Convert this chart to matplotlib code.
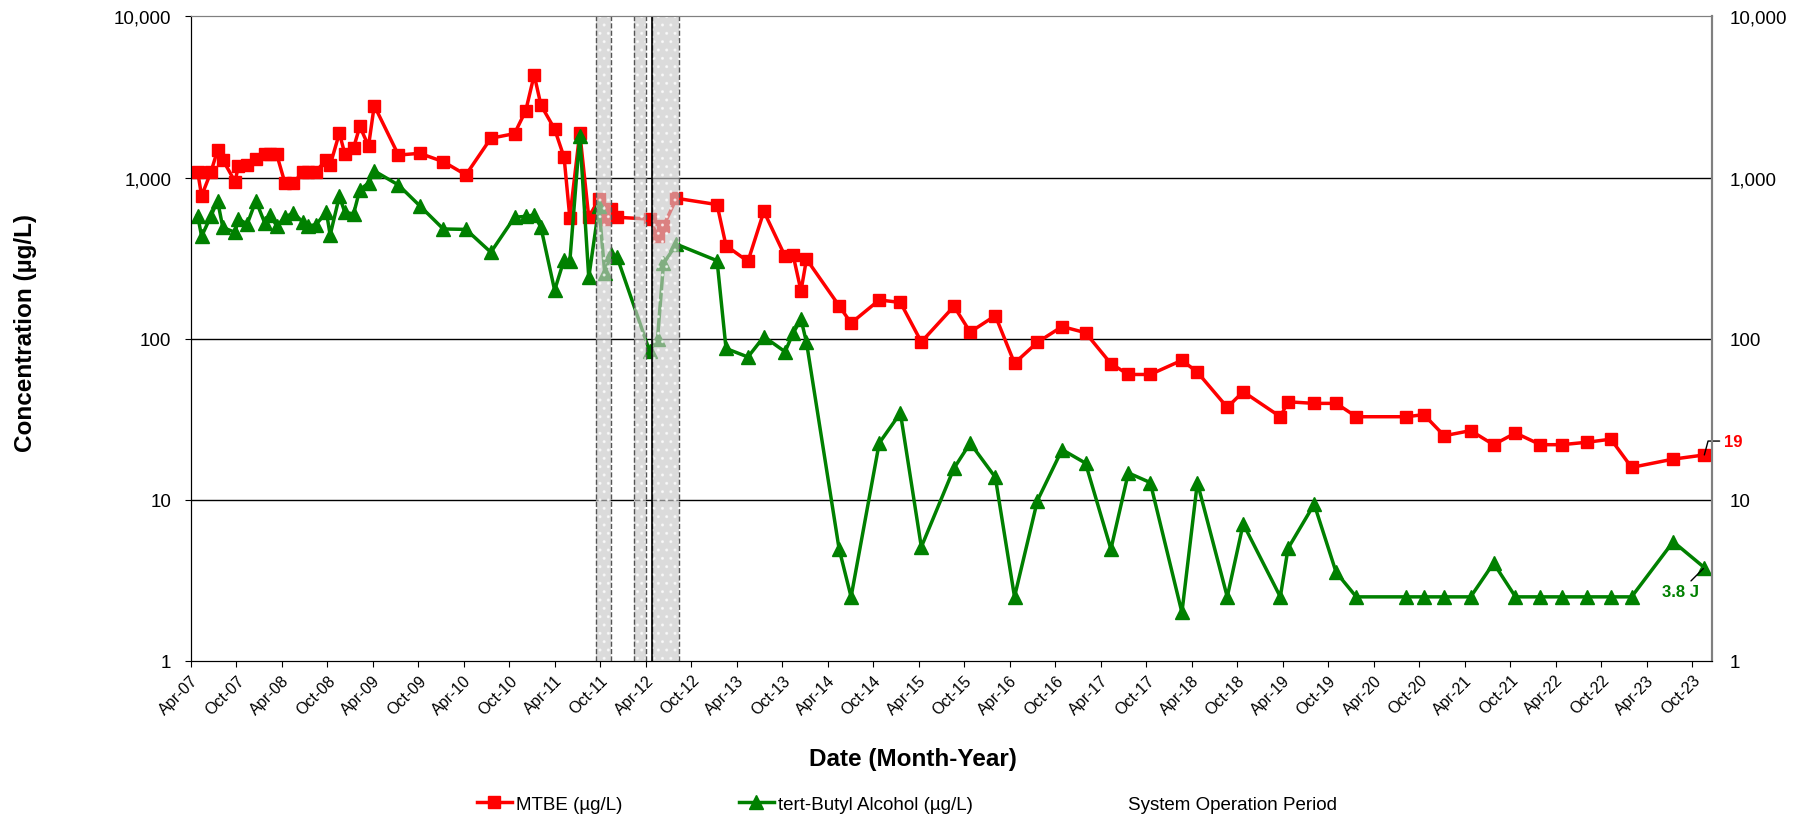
import pandas as pd
import numpy as np
import matplotlib.pyplot as plt
import matplotlib.dates as mdates
from matplotlib.ticker import FuncFormatter, NullLocator, FixedLocator
from matplotlib.lines import Line2D
from matplotlib.patches import Patch

plt.rcParams['font.family'] = ['Liberation Sans', 'DejaVu Sans']

# sample dates (both analytes sampled on the same days)
sample_dates = ['2007-04-29', '2007-05-15', '2007-06-22', '2007-07-18', '2007-08-08', '2007-09-26',
                '2007-10-10', '2007-11-14', '2007-12-19', '2008-01-23', '2008-02-15', '2008-03-11',
                '2008-04-14', '2008-05-17', '2008-06-24', '2008-07-16', '2008-08-15', '2008-09-27',
                '2008-10-12', '2008-11-18', '2008-12-10', '2009-01-14', '2009-02-08', '2009-03-15',
                '2009-04-07', '2009-07-13', '2009-10-06', '2010-01-09', '2010-04-10', '2010-07-19',
                '2010-10-22', '2010-12-06', '2011-01-09', '2011-02-05', '2011-04-01', '2011-05-09',
                '2011-06-01', '2011-07-11', '2011-08-16', '2011-09-26', '2011-10-19', '2011-11-15',
                '2011-12-08', '2012-04-16', '2012-05-18', '2012-06-11', '2012-08-02', '2013-01-12',
                '2013-02-17', '2013-05-16', '2013-07-19', '2013-10-12', '2013-11-13', '2013-12-15',
                '2014-01-06', '2014-05-17', '2014-07-04', '2014-10-25', '2015-01-18', '2015-04-12',
                '2015-08-21', '2015-10-25', '2016-02-03', '2016-04-20', '2016-07-21', '2016-10-28',
                '2017-01-30', '2017-05-12', '2017-07-21', '2017-10-17', '2018-02-21', '2018-04-24',
                '2018-08-22', '2018-10-25', '2019-03-23', '2019-04-23', '2019-08-06', '2019-11-02',
                '2020-01-22', '2020-08-10', '2020-10-19', '2021-01-09', '2021-04-25', '2021-07-26',
                '2021-10-22', '2022-01-30', '2022-04-26', '2022-08-07', '2022-11-09', '2023-01-31',
                '2023-07-17', '2023-11-19']

mtbe = [1090, 770, 1090, 1480, 1290, 945, 1180, 1190, 1300, 1400, 1400, 1400,
        920, 920, 1090, 1090, 1090, 1290, 1195, 1890, 1400, 1530, 2080, 1570,
        2800, 1380, 1415, 1256, 1040, 1754, 1875, 2600, 4335, 2820, 2000, 1336,
        563, 1900, 567, 736, 553, 635, 567, 553, 435, 500, 744, 680,
        378, 302, 617, 325, 332, 198, 312, 160, 125, 174, 168, 95.5,
        159, 110, 139, 70.5, 95, 119, 109, 70, 60, 60, 73.5, 62,
        37.5, 46.9, 32.8, 40.6, 39.7, 39.7, 32.8, 32.8, 33.8, 25, 26.9, 22,
        26, 22, 22, 22.8, 23.8, 15.9, 17.9, 19]

tba = [580, 432, 580, 719, 491, 457, 553, 515, 719, 524, 590, 500,
       567, 605, 530, 503, 509, 609, 440, 766, 609, 595, 841, 925,
       1100, 900, 670, 480, 477, 344, 567, 575, 586, 491, 200, 309,
       302, 1820, 240, 663, 256, 336, 320, 84, 100, 293, 386, 305,
       87, 77, 103, 83, 108, 132, 95, 4.95, 2.5, 22.5, 34.6, 5.1,
       15.7, 22.5, 13.8, 2.5, 9.9, 20.5, 16.9, 4.95, 14.7, 12.8, 2.0, 12.8,
       2.5, 7.1, 2.5, 5.0, 9.4, 3.55, 2.5, 2.5, 2.5, 2.5, 2.5, 4.05,
       2.5, 2.5, 2.5, 2.5, 2.5, 2.5, 5.5, 3.8]

# system operation periods
op_starts = ['2011-09-13', '2012-02-15', '2012-04-25']
op_ends = ['2011-11-12', '2012-04-01', '2012-08-12']

ytick_vals = [1, 10, 100, 1000, 10000]

dates = pd.to_datetime(sample_dates)

fig = plt.figure(figsize=(18.14, 8.2), dpi=100)
ax = fig.add_axes([0.1051, 0.1927, 0.8387, 0.786])

ax.plot(dates, mtbe, color='#ff0000', lw=2.5, marker='s', ms=8.5, zorder=3)
ax.plot(dates, tba, color='#008000', lw=2.5, marker='^', ms=9.5, zorder=3)

# shaded periods drawn over the lines so markers look faded
for s, e in zip(op_starts, op_ends):
    s = pd.Timestamp(s)
    e = pd.Timestamp(e)
    ax.axvspan(s, e, facecolor='#c8c8c8', edgecolor='white', hatch='..', lw=0, alpha=0.65, zorder=4)
    ax.axvline(s, color='#555555', lw=1, ls='--', zorder=5)
    ax.axvline(e, color='#555555', lw=1, ls='--', zorder=5)
ax.axvline(pd.Timestamp(op_starts[2]), color='black', lw=1.2, zorder=5)

ax.set_yscale('log')
ax.set_ylim(1, 10000)
ax.set_xlim(pd.Timestamp('2007-04-01'), pd.Timestamp('2023-12-20'))

for v in [10, 100, 1000]:
    ax.axhline(v, color='black', lw=1, zorder=1)

fmt = FuncFormatter(lambda v, p: f'{v:,.0f}')
ax.yaxis.set_major_locator(FixedLocator(ytick_vals))
ax.yaxis.set_major_formatter(fmt)
ax.yaxis.set_minor_locator(NullLocator())
ax.tick_params(axis='y', labelsize=13.5, length=4, pad=10, direction='out')

ax.xaxis.set_major_locator(mdates.MonthLocator(bymonth=[4, 10], bymonthday=1))
ax.xaxis.set_major_formatter(mdates.DateFormatter('%b-%y'))
ax.tick_params(axis='x', labelsize=11.5, length=4, pad=4, direction='out')
for lab in ax.get_xticklabels():
    lab.set_rotation(45)
    lab.set_ha('right')
    lab.set_rotation_mode('anchor')

ax2 = ax.twinx()
ax2.set_yscale('log')
ax2.set_ylim(1, 10000)
ax2.yaxis.set_major_locator(FixedLocator(ytick_vals))
ax2.yaxis.set_major_formatter(fmt)
ax2.yaxis.set_minor_locator(NullLocator())
ax2.tick_params(axis='y', labelsize=13.5, length=0, pad=13)

for a in (ax, ax2):
    a.spines['top'].set_color('#808080')
    a.spines['right'].set_color('#808080')
    a.spines['left'].set_color('black')
    a.spines['bottom'].set_color('black')
    a.spines['right'].set_linewidth(1.5)

# labels for the latest results
ax.annotate('19', xy=(dates[-1], 19), xytext=(14, 10), textcoords='offset points',
            ha='left', va='center', color='#ff0000', fontsize=12, fontweight='bold',
            annotation_clip=False,
            arrowprops=dict(arrowstyle='-', color='black', lw=1, shrinkA=1, shrinkB=0,
                            connectionstyle='angle,angleA=0,angleB=75,rad=0'))
ax.annotate('3.8 J', xy=(dates[-1], 3.8), xytext=(-17, -17), textcoords='offset points',
            ha='center', va='center', color='#008000', fontsize=12, fontweight='bold',
            annotation_clip=False,
            arrowprops=dict(arrowstyle='-', color='black', lw=1, shrinkA=0, shrinkB=1))

fig.text(0.503, 0.074, 'Date (Month-Year)', ha='center', va='center', fontsize=17.5, fontweight='bold')
fig.text(0.014, 0.594, 'Concentration (µg/L)', ha='center', va='center', rotation=90,
         fontsize=17.5, fontweight='bold')

handles = [Line2D([], [], color='#ff0000', lw=2.5, marker='s', ms=8.5),
           Line2D([], [], color='#008000', lw=2.5, marker='^', ms=9.5),
           Patch(facecolor='none', edgecolor='none')]
labels = ['MTBE (µg/L)', 'tert-Butyl Alcohol (µg/L)', 'System Operation Period']
fig.legend(handles, labels, loc='center', bbox_to_anchor=(0.5, 0.018), ncol=3, frameon=False,
           fontsize=13.5, handlelength=1.9, handletextpad=0.2, columnspacing=6.2)

fig.savefig('out.png', dpi=100)
